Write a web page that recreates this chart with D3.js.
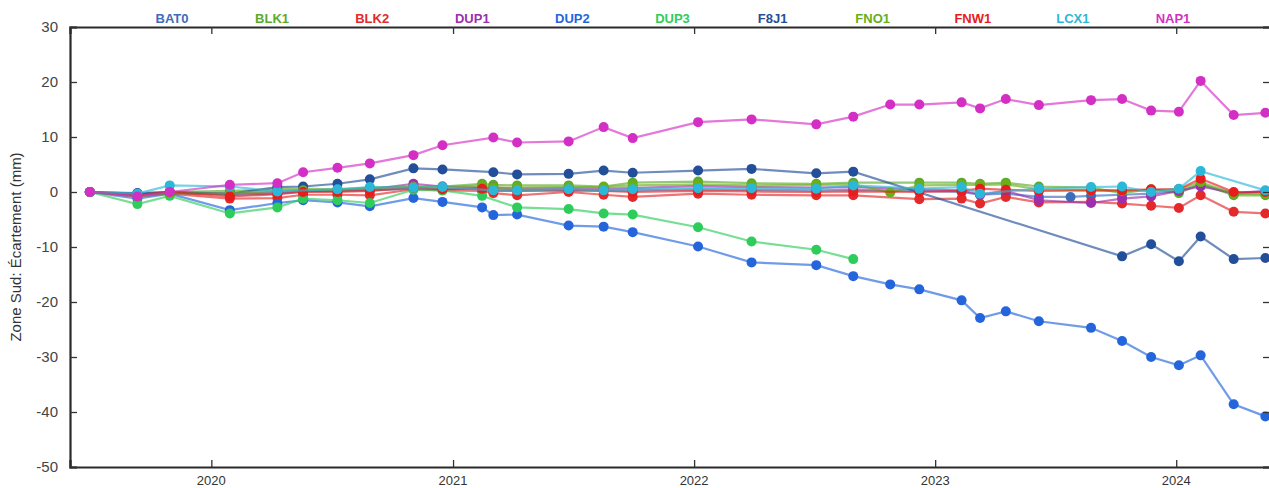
<!DOCTYPE html>
<html>
<head>
<meta charset="utf-8">
<script src="https://cdn.jsdelivr.net/npm/d3@7"></script>
<style>
  body { margin: 0; background: #fff; }
  svg { display: block; font-family: "Liberation Sans", Arial, sans-serif; }
</style>
</head>
<body>
<svg width="1269" height="488"></svg>
<script>
// survey dates (shared by every station)
let dates = ['2019-07-01','2019-09-11','2019-10-30','2020-01-29','2020-04-10','2020-05-19','2020-07-10','2020-08-28',
  '2020-11-02','2020-12-16','2021-02-14','2021-03-03','2021-04-08','2021-06-25','2021-08-17','2021-09-30',
  '2022-01-07','2022-03-29','2022-07-05','2022-08-30','2022-10-25','2022-12-08','2023-02-10','2023-03-10',
  '2023-04-18','2023-06-07','2023-07-25','2023-08-25','2023-10-11','2023-11-24','2024-01-05','2024-02-07',
  '2024-03-28','2024-05-15']

let stations = ['BAT0','BLK1','BLK2','DUP1','DUP2','DUP3','F8J1','FNO1','FNW1','LCX1','NAP1']
let colors = ['#3f6cba','#5bab2a','#e4292b','#9b2fae','#2465dc','#2ecc5a','#234f9a','#6aae1a','#e81c1c','#2bb8d8','#d42fc4']

let BAT0 = [0,-0.3,0,-0.5,-0.3,0.1,0.2,0.3,0.6,0.5,0.6,0.4,0.3,0.4,0.3,0.3,0.5,0.4,0.3,0.4,null,0.2,0,-0.5,-0.3,-0.9,-0.9,-0.7,-0.5,-0.3,0.2,1.3,-0.3,0]
let BLK1 = [0,-0.5,0,0.2,0.5,0.6,0.5,0.8,1.0,1.0,1.5,1.3,1.2,1.2,1.0,1.7,1.9,1.6,1.5,1.7,null,1.7,1.7,1.5,1.7,1.0,null,0.8,-0.2,0.5,-0.2,1.5,-0.6,-0.6]
let BLK2 = [0,-0.8,-0.3,-1.2,-1.1,-0.5,-0.5,-0.6,0.5,0.3,0.2,-0.2,-0.6,0,-0.5,-0.9,-0.3,-0.5,-0.6,-0.6,null,-1.3,-1.2,-2.1,-0.9,-1.9,null,-1.8,-2.1,-2.5,-2.9,-0.6,-3.6,-3.9]
let DUP1 = [0,-0.6,-0.2,-0.3,0,0.2,0.3,0.5,1.5,1.0,0.8,0.8,0.6,0.7,0.6,0.7,1.1,0.9,0.8,0.9,null,0.5,0.3,-0.5,0.2,-1.5,null,-2.0,-1.2,-0.8,0.2,1.0,-0.2,0.2]
let DUP2 = [0,-1.2,-0.3,-3.3,-2.0,-1.5,-1.9,-2.6,-1.1,-1.8,-2.8,-4.2,-4.1,-6.1,-6.3,-7.3,-9.9,-12.8,-13.3,-15.3,-16.8,-17.7,-19.7,-22.9,-21.7,-23.5,null,-24.7,-27.1,-30.0,-31.5,-29.7,-38.6,-40.8]
let DUP3 = [0,-2.2,-0.7,-3.9,-2.8,-1.2,-1.5,-2.0,0.4,0.3,-0.7,null,-2.8,-3.1,-3.9,-4.1,-6.4,-9.0,-10.5,-12.2,null,null,null,null,null,null,null,null,null,null,null,null,null,null]
let F8J1 = [0,-0.2,0,-0.3,0.9,1.0,1.5,2.3,4.3,4.1,null,3.6,3.2,3.3,3.9,3.5,3.9,4.2,3.4,3.7,null,null,null,null,null,null,null,null,-11.7,-9.5,-12.6,-8.1,-12.2,-12.0]
let FNO1 = [0,-0.8,-0.2,-0.3,0.2,0.3,0.4,0.6,1.0,0.8,1.2,0.8,0.8,0.9,0.9,1.2,1.4,1.2,1.3,1.4,-0.1,1.2,1.3,1.3,1.4,0.5,null,0.3,0.2,0.3,0.5,1.8,-0.3,-0.4]
let FNW1 = [0,-0.5,0,-0.8,-0.4,0,0,0.2,0.8,0.5,0.6,0.2,0.2,0.3,0.2,0,0.2,0.1,0,0.1,null,0,0.2,0.6,0.4,0.2,null,0.3,0.3,0.5,0.5,2.4,0,0]
let LCX1 = [0,-0.3,1.2,1.0,0.1,null,0.5,0.9,0.8,0.9,null,0.3,0.3,0.5,0.3,0.5,0.7,0.7,0.6,1.2,null,0.6,0.9,-0.3,null,0.6,null,0.9,1.0,0,0.6,3.8,null,0.3]
let NAP1 = [0,-0.8,0,1.3,1.6,3.6,4.4,5.2,6.7,8.5,null,9.9,9.0,9.2,11.8,9.8,12.7,13.2,12.3,13.7,15.9,15.9,16.3,15.2,16.9,15.8,null,16.7,16.9,14.8,14.6,20.2,14.0,14.4]

let values = [BAT0,BLK1,BLK2,DUP1,DUP2,DUP3,F8J1,FNO1,FNW1,LCX1,NAP1]
let yTicks = [30,20,10,0,-10,-20,-30,-40,-50]

let plotLeft = 70
let plotRight = 1270
let plotTop = 27
let plotBottom = 467
let parse = d3.timeParse('%Y-%m-%d')

let svg = d3.select('svg')

let x = d3.scaleTime()
    .domain([parse('2019-06-01'), parse('2024-05-22')])
    .range([plotLeft, plotRight])

let y = d3.scaleLinear()
    .domain([-50, 30])
    .range([plotBottom, plotTop])

let legendX = d3.scalePoint()
    .domain(stations)
    .range([172, 1173])

let drawAxes = () => {
    let years = x.ticks(d3.timeYear.every(1))

    svg.append('g')
        .attr('transform', `translate(0,${plotBottom})`)
        .call(d3.axisTop(x).tickValues(years).tickSize(7).tickFormat(''))
    svg.append('g')
        .attr('transform', `translate(0,${plotTop})`)
        .call(d3.axisBottom(x).tickValues(years).tickSize(7).tickFormat(''))
    svg.append('g')
        .attr('transform', `translate(${plotLeft},0)`)
        .call(d3.axisRight(y).tickValues(yTicks).tickSize(7).tickFormat(''))
    svg.append('g')
        .attr('transform', `translate(${plotRight},0)`)
        .call(d3.axisLeft(y).tickValues(yTicks).tickSize(7).tickFormat(''))

    svg.selectAll('.domain')
        .attr('stroke', '#2a2a2a')
        .attr('stroke-width', 2.2)
    svg.selectAll('.tick line')
        .attr('stroke', '#333')
        .attr('stroke-width', 1.3)

    svg.append('g')
        .selectAll('text')
        .data(years)
        .enter()
        .append('text')
        .attr('x', (d) => x(d))
        .attr('y', 485)
        .attr('text-anchor', 'middle')
        .attr('font-size', 13)
        .attr('fill', '#333')
        .text(d3.timeFormat('%Y'))

    svg.append('g')
        .selectAll('text')
        .data(yTicks)
        .enter()
        .append('text')
        .attr('x', 58)
        .attr('y', (d) => y(d) + 5)
        .attr('text-anchor', 'end')
        .attr('font-size', 15)
        .attr('fill', '#444')
        .text((d) => d < 0 ? '-' + Math.abs(d) : d)

    svg.append('text')
        .attr('transform', `translate(21,${(plotTop + plotBottom) / 2}) rotate(-90)`)
        .attr('text-anchor', 'middle')
        .attr('font-size', 15)
        .attr('fill', '#333')
        .text('Zone Sud: Écartement (mm)')
}

let drawSeries = () => {
    let line = d3.line()
        .x((d) => x(d.t))
        .y((d) => y(d.v))

    stations.forEach((name, i) => {
        let pts = values[i]
            .map((v, j) => ({ t: parse(dates[j]), v: v }))
            .filter((d) => d.v !== null)

        svg.append('path')
            .datum(pts)
            .attr('d', line)
            .attr('fill', 'none')
            .attr('stroke', colors[i])
            .attr('stroke-opacity', 0.65)
            .attr('stroke-width', 2.2)

        svg.append('g')
            .selectAll('circle')
            .data(pts)
            .enter()
            .append('circle')
            .attr('cx', (d) => x(d.t))
            .attr('cy', (d) => y(d.v))
            .attr('r', 5)
            .attr('fill', colors[i])
    })
}

let drawLegend = () => {
    svg.append('g')
        .selectAll('text')
        .data(stations)
        .enter()
        .append('text')
        .attr('x', (d) => legendX(d))
        .attr('y', 23)
        .attr('text-anchor', 'middle')
        .attr('font-size', 13)
        .attr('font-weight', 'bold')
        .attr('fill', (d, i) => colors[i])
        .text((d) => d)
}

drawSeries()
drawAxes()
drawLegend()
</script>
</body>
</html>
